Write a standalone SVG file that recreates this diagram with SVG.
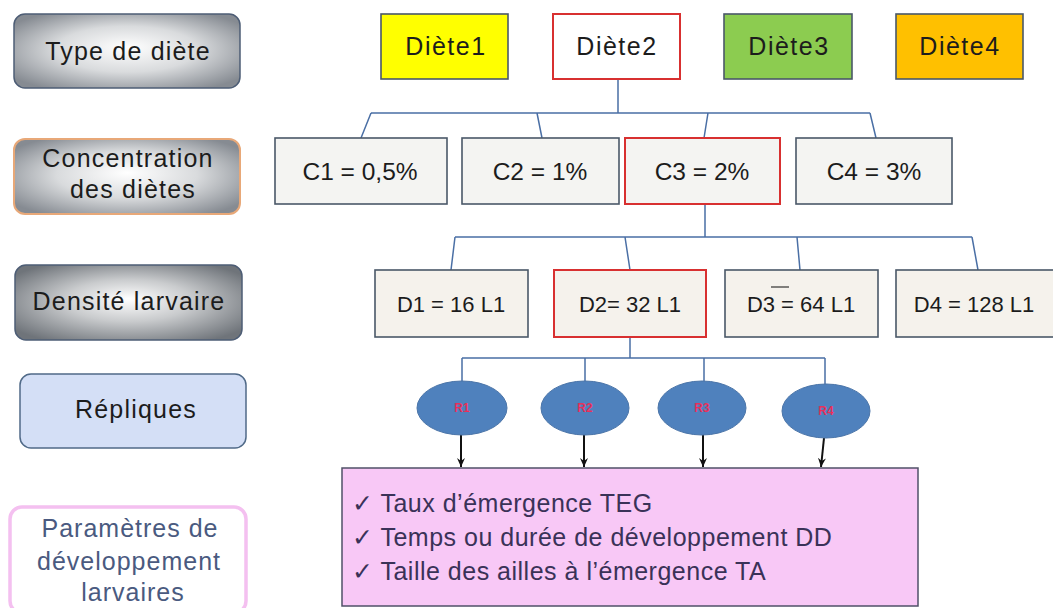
<svg xmlns="http://www.w3.org/2000/svg" width="1053" height="608" viewBox="0 0 1053 608">
<defs>
<radialGradient id="grey" cx="50%" cy="50%" r="62%" fx="50%" fy="45%">
<stop offset="0" stop-color="#ffffff"/>
<stop offset="0.5" stop-color="#d9dbdd"/>
<stop offset="1" stop-color="#868b92"/>
</radialGradient>
<radialGradient id="grey2" cx="50%" cy="50%" r="62%" fx="50%" fy="45%">
<stop offset="0" stop-color="#ffffff"/>
<stop offset="0.45" stop-color="#c9cbcd"/>
<stop offset="1" stop-color="#6f747a"/>
</radialGradient>
<marker id="arr" markerWidth="10" markerHeight="10" refX="9" refY="5" orient="auto" markerUnits="userSpaceOnUse" viewBox="0 0 10 10">
<path d="M0,1 L9,5 L0,9 L3,5 Z" fill="#111"/>
</marker>
</defs>
<style>
text{font-family:"Liberation Sans","DejaVu Sans",sans-serif;}
.lbl{font-size:25px;fill:#1c1c1c;text-anchor:middle;letter-spacing:1.2px;}
.pl{font-size:25px;fill:#4a5a80;text-anchor:middle;letter-spacing:1px;}
.box{stroke:#4a5868;stroke-width:1.6;}
.sel{stroke:#d83030;stroke-width:2;}
.bt{font-size:25px;fill:#1c1c1c;text-anchor:middle;letter-spacing:1.5px;}
.ct{font-size:24.5px;fill:#1c1c1c;text-anchor:middle;}
.dt{font-size:22px;fill:#1c1c1c;text-anchor:middle;}
.rt{font-size:12px;font-weight:bold;fill:#e8305a;text-anchor:middle;}
.con{fill:none;stroke:#4a6fa5;stroke-width:1.5;}
.arw{fill:none;stroke:#111;stroke-width:2;}
.el{fill:#4f81bd;stroke:#4a74a8;stroke-width:1;}
.pt{font-size:25px;fill:#3a3258;letter-spacing:0.5px;}
</style>
<rect width="1053" height="608" fill="#ffffff"/>

<g id="label-type">
<rect x="14" y="14" width="226" height="74" rx="11" fill="url(#grey)" stroke="#4d5d75" stroke-width="1.5"/>
<text class="lbl" x="128" y="60">Type de diète</text>
</g>
<g id="label-concentration">
<rect x="14" y="139" width="226" height="75" rx="11" fill="url(#grey)" stroke="#e8a878" stroke-width="2"/>
<text class="lbl" x="128" y="167">Concentration</text>
<text class="lbl" x="133" y="198">des diètes</text>
</g>
<g id="label-densite">
<rect x="15" y="265" width="227" height="75" rx="11" fill="url(#grey2)" stroke="#4d5d75" stroke-width="1.5"/>
<text class="lbl" x="129" y="310">Densité larvaire</text>
</g>
<g id="label-repliques">
<rect x="20" y="374" width="226" height="74" rx="11" fill="#d4dff6" stroke="#506a88" stroke-width="1.5"/>
<text class="lbl" x="136" y="418">Répliques</text>
</g>
<g id="label-parametres">
<rect x="10" y="507" width="236" height="106" rx="12" fill="#ffffff" stroke="#f4c0f0" stroke-width="3.5"/>
<text class="pl" x="130" y="537">Paramètres de</text>
<text class="pl" x="129" y="570">développement</text>
<text class="pl" x="133" y="601">larvaires</text>
</g>

<g id="connectors">
<path class="con" d="M618,79 V113 M371,113 H870 M371,113 L361,138 M537,113 L542,138 M708,113 L704,138 M870,113 L876,138"/>
<path class="con" d="M705,204 V237 M455,237 H972 M455,237 L451,270 M625,237 L630,270 M797,237 L800,270 M972,237 L978,270"/>
<path class="con" d="M630,337 V358 M462,358 H825 M462,358 V384 M585,358 V384 M704,358 V384 M825,358 V386"/>
<path class="arw" d="M461,434 V467" marker-end="url(#arr)"/>
<path class="arw" d="M584,434 V467" marker-end="url(#arr)"/>
<path class="arw" d="M703,434 V467" marker-end="url(#arr)"/>
<path class="arw" d="M824,438 L821,467" marker-end="url(#arr)"/>
</g>

<g id="diete1"><rect class="box" x="381" y="14" width="127" height="65" fill="#ffff00"/><text class="bt" x="446" y="55">Diète1</text></g>
<g id="diete2"><rect class="sel" x="553" y="14" width="127" height="65" fill="#ffffff"/><text class="bt" x="617" y="55">Diète2</text></g>
<g id="diete3"><rect class="box" x="724" y="14" width="128" height="65" fill="#8ccc50"/><text class="bt" x="789" y="55">Diète3</text></g>
<g id="diete4"><rect class="box" x="896" y="14" width="127" height="65" fill="#ffc000"/><text class="bt" x="960" y="55">Diète4</text></g>

<g id="c1"><rect class="box" x="275" y="138" width="172" height="66" fill="#f4f4f2"/><text class="ct" x="360" y="180">C1 = 0,5%</text></g>
<g id="c2"><rect class="box" x="462" y="138" width="157" height="66" fill="#f4f4f2"/><text class="ct" x="540" y="180">C2 = 1%</text></g>
<g id="c3"><rect class="sel" x="625" y="138" width="155" height="66" fill="#f4f4f2"/><text class="ct" x="702" y="180">C3 = 2%</text></g>
<g id="c4"><rect class="box" x="796" y="138" width="156" height="66" fill="#f4f4f2"/><text class="ct" x="874" y="180">C4 = 3%</text></g>

<g id="d1"><rect class="box" x="375" y="270" width="153" height="67" fill="#f5f2ec"/><text class="dt" x="451" y="312">D1 = 16 L1</text></g>
<g id="d2"><rect class="sel" x="554" y="270" width="152" height="67" fill="#f5f2ec"/><text class="dt" x="630" y="312">D2= 32 L1</text></g>
<g id="d3"><rect class="box" x="725" y="270" width="153" height="67" fill="#f5f2ec"/><text class="dt" x="801" y="312">D3 = 64 L1</text><path d="M771,287 H789" stroke="#333" stroke-width="1.2"/></g>
<g id="d4"><rect class="box" x="896" y="270" width="160" height="67" fill="#f5f2ec"/><text class="dt" x="974" y="312">D4 = 128 L1</text></g>

<g id="r1"><ellipse class="el" cx="462" cy="408" rx="45" ry="27"/><text class="rt" x="462" y="412">R1</text></g>
<g id="r2"><ellipse class="el" cx="585" cy="408" rx="44" ry="27"/><text class="rt" x="585" y="412">R2</text></g>
<g id="r3"><ellipse class="el" cx="702" cy="408" rx="44" ry="27"/><text class="rt" x="702" y="412">R3</text></g>
<g id="r4"><ellipse class="el" cx="826" cy="411" rx="44" ry="27"/><text class="rt" x="826" y="415">R4</text></g>

<g id="parametres">
<rect x="342" y="468" width="576" height="138" fill="#f8c8f6" stroke="#505068" stroke-width="1.5"/>
<text class="pt" x="352" y="512">✓ Taux d’émergence TEG</text>
<text class="pt" x="352" y="546">✓ Temps ou durée de développement DD</text>
<text class="pt" x="352" y="580">✓ Taille des ailles à l’émergence TA</text>
</g>
</svg>
